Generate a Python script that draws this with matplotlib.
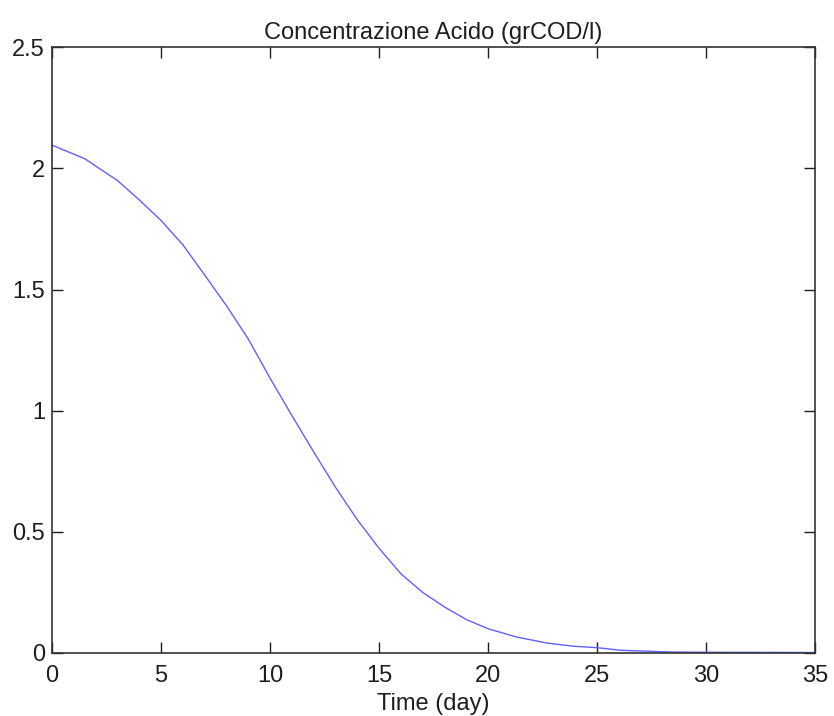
import matplotlib

matplotlib.use("Agg")

import matplotlib.pyplot as plt

# values
time_day = [0, 1.5, 3, 4, 5, 6, 7, 8, 9, 10, 11, 12, 13, 14, 15, 16, 17, 18,
            19, 20, 21.3, 22.7, 23.9, 25, 26.1, 28.4, 30, 35]
acid_conc = [2.096, 2.04, 1.95, 1.87, 1.785, 1.685, 1.56, 1.433, 1.296, 1.134,
             0.98, 0.83, 0.684, 0.55, 0.432, 0.327, 0.25, 0.19, 0.138, 0.10,
             0.066, 0.041, 0.028, 0.022, 0.011, 0.004, 0.003, 0.002]
x_ticks = [0, 5, 10, 15, 20, 25, 30, 35]
y_ticks = [0, 0.5, 1, 1.5, 2, 2.5]
y_tick_labels = ["0", "0.5", "1", "1.5", "2", "2.5"]

plt.rcParams["font.family"] = ["Liberation Sans", "DejaVu Sans"]

fig = plt.figure(figsize=(8.34, 7.16), dpi=100)
ax = fig.add_axes([0.0624, 0.088, 0.915, 0.846])

ax.plot(time_day, acid_conc, color="#6060ff", lw=1.0)

ax.set_xlim(0, 35)
ax.set_ylim(0, 2.5)
ax.set_xticks(x_ticks)
ax.set_yticks(y_ticks)
ax.set_xticklabels([str(t) for t in x_ticks])
ax.set_yticklabels(y_tick_labels)
ax.tick_params(direction="in", length=8, width=1, top=True, right=True,
               labelsize=17, colors="#1e1e1e")
ax.tick_params(axis="x", pad=9)
ax.tick_params(axis="y", pad=5)
for s in ax.spines.values():
    s.set_color("#333333")
    s.set_linewidth(1.2)

ax.set_title("Concentrazione Acido (grCOD/l)", fontsize=17, color="#1e1e1e", pad=6)
ax.set_xlabel("Time (day)", fontsize=17, color="#1e1e1e", labelpad=4)

fig.savefig("out.png", dpi=100)
